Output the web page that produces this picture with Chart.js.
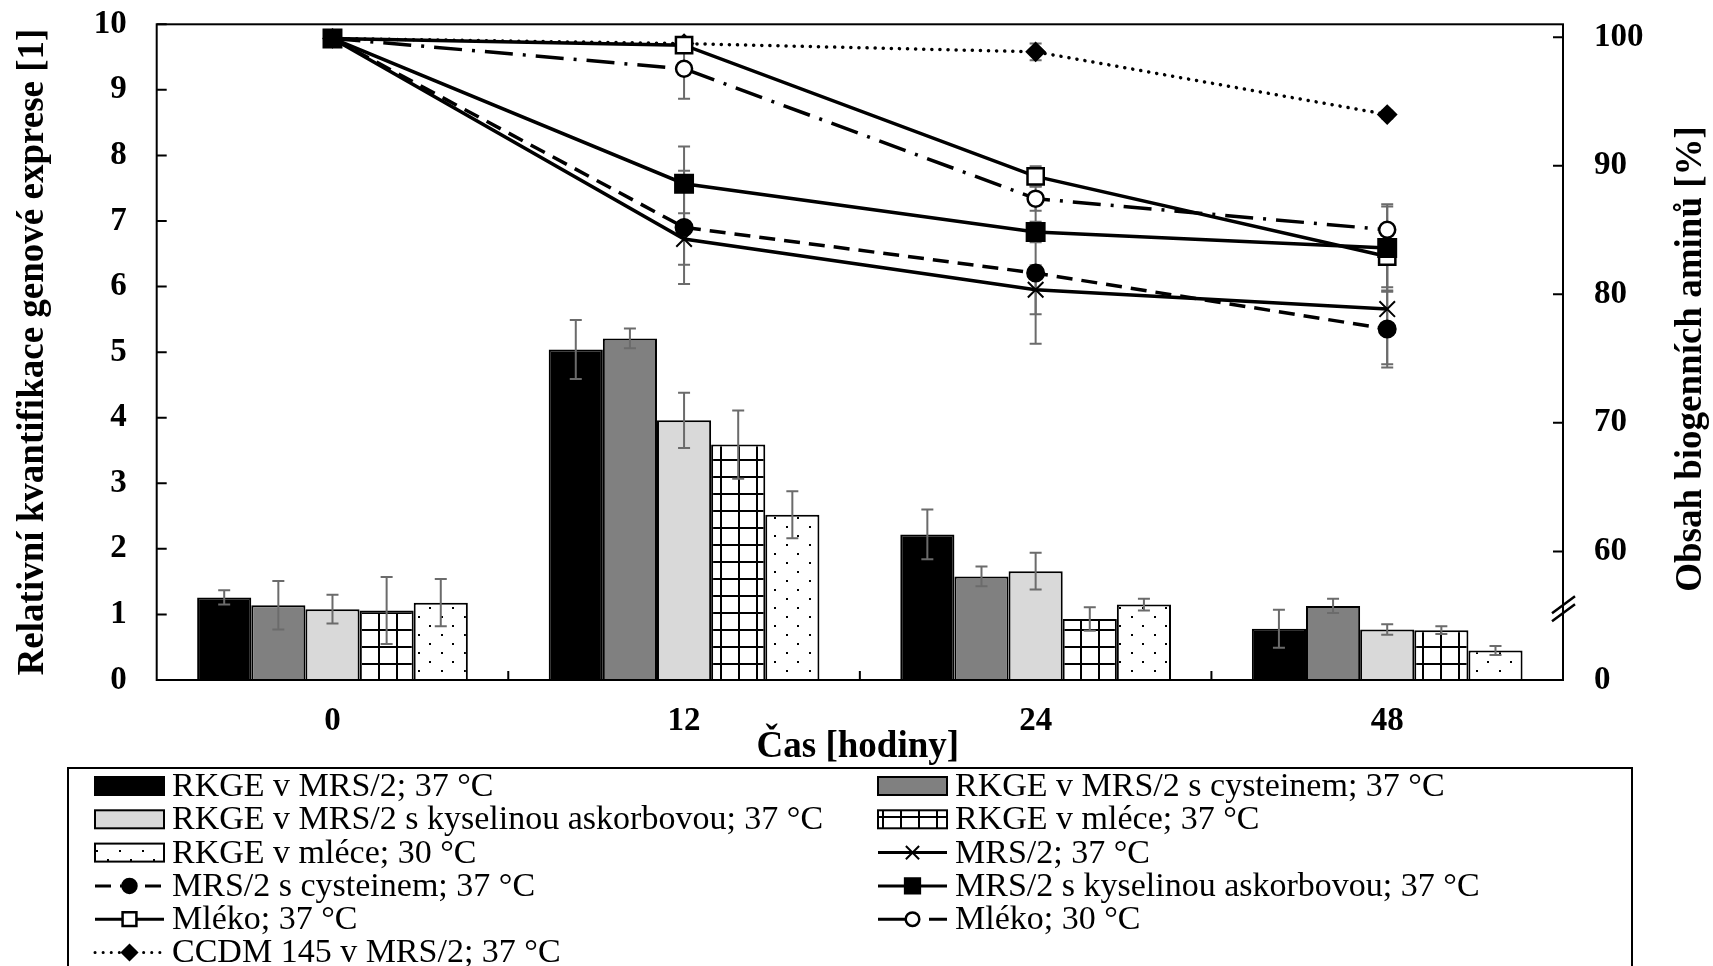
<!DOCTYPE html>
<html>
<head>
<meta charset="utf-8">
<script src="https://cdn.jsdelivr.net/npm/chart.js@4.4.1/dist/chart.umd.min.js"></script>
<style>
html, body { margin: 0; padding: 0; background: #fff; }
#wrap { width: 1713px; height: 966px; position: relative; overflow: hidden; }
</style>
</head>
<body>
<div id="wrap"><canvas id="graf" width="1713" height="966"></canvas></div>
<script>
// --- Data ---
const hodiny = ['0', '12', '24', '48'];

// Relativni kvantifikace genove exprese (leva osa) - sloupce
const rkgeMrs = [1.26, 5.04, 2.22, 0.78];
const rkgeMrsChyba = [0.11, 0.45, 0.38, 0.29];
const rkgeCys = [1.14, 5.21, 1.58, 1.13];
const rkgeCysChyba = [0.37, 0.15, 0.15, 0.11];
const rkgeAsk = [1.08, 3.96, 1.66, 0.77];
const rkgeAskChyba = [0.22, 0.42, 0.28, 0.08];
const rkgeMl37 = [1.06, 3.59, 0.93, 0.76];
const rkgeMl37Chyba = [0.51, 0.52, 0.18, 0.06];
const rkgeMl30 = [1.18, 2.52, 1.15, 0.45];
const rkgeMl30Chyba = [0.36, 0.36, 0.09, 0.07];

// Obsah biogennich aminu (prava osa) - cary
const mrs = [99.9, 84.3, 80.35, 78.85];
const mrsChyba = [0, 2.0, 1.9, 4.3];
const mrsCys = [99.9, 85.2, 81.65, 77.3];
const mrsCysChyba = [0, 4.4, 5.5, 3.0];
const mrsAsk = [99.9, 88.6, 84.84, 83.6];
const mrsAskChyba = [0, 2.9, 0.8, 3.4];
const mleko37 = [99.9, 99.38, 89.17, 82.94];
const mleko37Chyba = [0, 0.3, 0.78, 2.4];
const mleko30 = [99.9, 97.54, 87.44, 85.02];
const mleko30Chyba = [0, 2.34, 0.94, 1.8];
const ccdm = [99.9, 99.5, 98.86, 93.98];
const ccdmChyba = [0, 0.2, 0.65, 0.3];

// Osy
const levaOsaTicks = [0, 1, 2, 3, 4, 5, 6, 7, 8, 9, 10];
const pravaOsaTicks = [50, 60, 70, 80, 90, 100];
const pravaOsaPopisky = ['0', '60', '70', '80', '90', '100'];

const PISMO = '"Liberation Serif", "Times New Roman", serif';
const canvas = document.getElementById('graf');
const ctx0 = canvas.getContext('2d');

// --- Vzory vyplne ---
function vzorMrizka() {
    const c = document.createElement('canvas');
    c.width = 18; c.height = 17;
    const g = c.getContext('2d');
    g.fillStyle = '#fff'; g.fillRect(0, 0, 18, 17);
    g.fillStyle = '#000'; g.fillRect(0, 0, 2, 17); g.fillRect(0, 0, 18, 2);
    return ctx0.createPattern(c, 'repeat');
}
function vzorTecky() {
    const c = document.createElement('canvas');
    c.width = 23; c.height = 18;
    const g = c.getContext('2d');
    g.fillStyle = '#fff'; g.fillRect(0, 0, 23, 18);
    g.fillStyle = '#000'; g.fillRect(4, 4, 2, 2); g.fillRect(15, 13, 2, 2);
    return ctx0.createPattern(c, 'repeat');
}

const sloupec = (label, data, chyby, barva) => ({
    type: 'bar', label, data, chyby, yAxisID: 'y', order: 2,
    backgroundColor: barva, borderColor: '#000', borderWidth: 2,
    categoryPercentage: 0.77, barPercentage: 1.0
});
const cara = (label, data, chyby, extra) => Object.assign({
    type: 'line', label, data, chyby, yAxisID: 'y2', order: 1,
    borderColor: '#000', borderWidth: 3.5, tension: 0,
    pointBorderColor: '#000', pointBackgroundColor: '#000', pointBorderWidth: 2
}, extra);

const datasets = [
    sloupec('RKGE v MRS/2; 37 °C', rkgeMrs, rkgeMrsChyba, '#000000'),
    sloupec('RKGE v MRS/2 s cysteinem; 37 °C', rkgeCys, rkgeCysChyba, '#808080'),
    sloupec('RKGE v MRS/2 s kyselinou askorbovou; 37 °C', rkgeAsk, rkgeAskChyba, '#d9d9d9'),
    sloupec('RKGE v mléce; 37 °C', rkgeMl37, rkgeMl37Chyba, vzorMrizka()),
    sloupec('RKGE v mléce; 30 °C', rkgeMl30, rkgeMl30Chyba, vzorTecky()),
    cara('MRS/2; 37 °C', mrs, mrsChyba, { pointStyle: 'crossRot', pointRadius: 11 }),
    cara('MRS/2 s cysteinem; 37 °C', mrsCys, mrsCysChyba, { pointStyle: 'circle', pointRadius: 8.5, borderDash: [16, 9] }),
    cara('MRS/2 s kyselinou askorbovou; 37 °C', mrsAsk, mrsAskChyba, { pointStyle: 'rect', pointRadius: 12.7 }),
    cara('Mléko; 37 °C', mleko37, mleko37Chyba, { pointStyle: 'rect', pointRadius: 11.5, pointBackgroundColor: '#fff', pointBorderWidth: 2.5 }),
    cara('Mléko; 30 °C', mleko30, mleko30Chyba, { pointStyle: 'circle', pointRadius: 8, pointBackgroundColor: '#fff', pointBorderWidth: 2.5, borderDash: [28, 10, 3, 10] }),
    cara('CCDM 145 v MRS/2; 37 °C', ccdm, ccdmChyba, { pointStyle: 'rectRot', pointRadius: 9, borderDash: [0.1, 8], borderCapStyle: 'round' })
];

// --- Chybove useky ---
function kresliChyby(chart, i) {
    const ds = chart.data.datasets[i];
    const meta = chart.getDatasetMeta(i);
    if (!ds.chyby || meta.hidden) return;
    const osa = chart.scales[ds.yAxisID];
    const ctx = chart.ctx;
    ctx.save();
    ctx.strokeStyle = '#6b6b6b';
    ctx.lineWidth = 2;
    meta.data.forEach((el, j) => {
        const e = ds.chyby[j];
        if (!e) return;
        const yH = osa.getPixelForValue(ds.data[j] + e);
        const yD = osa.getPixelForValue(ds.data[j] - e);
        ctx.beginPath();
        ctx.moveTo(el.x, yH); ctx.lineTo(el.x, yD);
        ctx.moveTo(el.x - 6, yH); ctx.lineTo(el.x + 6, yH);
        ctx.moveTo(el.x - 6, yD); ctx.lineTo(el.x + 6, yD);
        ctx.stroke();
    });
    ctx.restore();
}

const chybyPlugin = {
    id: 'chyby',
    beforeDatasetsDraw(chart) {
        chart.data.datasets.forEach((ds, i) => { if (ds.type === 'line') kresliChyby(chart, i); });
    },
    afterDatasetDraw(chart, args) {
        if (chart.data.datasets[args.index].type === 'bar') kresliChyby(chart, args.index);
    }
};

// --- Ramecek, znacky os, nadpisy, legenda ---
function kresliSymbol(ctx, ds, x, y) {
    const w = 69;
    if (ds.type === 'bar') {
        ctx.fillStyle = ds.backgroundColor;
        ctx.fillRect(x, y - 9, w, 18);
        ctx.lineWidth = 2; ctx.strokeStyle = '#000';
        ctx.strokeRect(x, y - 9, w, 18);
        return;
    }
    ctx.save();
    ctx.strokeStyle = '#000';
    ctx.lineWidth = 3;
    ctx.setLineDash(ds.borderDash || []);
    ctx.lineCap = ds.borderCapStyle || 'butt';
    ctx.beginPath(); ctx.moveTo(x, y); ctx.lineTo(x + w, y); ctx.stroke();
    ctx.restore();
    ctx.save();
    ctx.fillStyle = ds.pointBackgroundColor;
    ctx.strokeStyle = '#000';
    ctx.lineWidth = ds.pointBorderWidth;
    Chart.helpers.drawPoint(ctx, { pointStyle: ds.pointStyle, radius: ds.pointRadius * 0.85, borderWidth: ds.pointBorderWidth, rotation: 0 }, x + w / 2, y);
    ctx.restore();
}

const dekorPlugin = {
    id: 'dekor',
    afterDraw(chart) {
        const { ctx, chartArea: a, scales } = chart;
        ctx.save();
        ctx.strokeStyle = '#000';
        ctx.lineWidth = 2;
        ctx.strokeRect(a.left, a.top, a.right - a.left, a.bottom - a.top);

        // znacky dovnitr
        ctx.beginPath();
        levaOsaTicks.forEach(v => {
            const y = scales.y.getPixelForValue(v);
            ctx.moveTo(a.left, y); ctx.lineTo(a.left + 10, y);
        });
        pravaOsaTicks.forEach(v => {
            const y = scales.y2.getPixelForValue(v);
            ctx.moveTo(a.right - 10, y); ctx.lineTo(a.right, y);
        });
        for (let i = 0; i < hodiny.length - 1; i++) {
            const x = scales.x.getPixelForValue(i + 0.5);
            ctx.moveTo(x, a.bottom); ctx.lineTo(x, a.bottom - 9);
        }
        ctx.stroke();

        // preruseni prave osy
        const yb = scales.y2.getPixelForValue(55.5);
        ctx.lineWidth = 2.5;
        ctx.beginPath();
        [-4, 4].forEach(d => {
            ctx.moveTo(a.right - 11, yb + d + 8); ctx.lineTo(a.right + 12, yb + d - 9);
        });
        ctx.stroke();

        // nadpisy os
        ctx.fillStyle = '#000';
        ctx.font = 'bold 37px ' + PISMO;
        ctx.textAlign = 'center';
        ctx.textBaseline = 'alphabetic';
        ctx.fillText('Čas [hodiny]', (a.left + a.right) / 2 - 2, 757);
        ctx.save();
        ctx.translate(43, 352); ctx.rotate(-Math.PI / 2);
        ctx.fillText('Relativní kvantifikace genové exprese [1]', 0, 0);
        ctx.restore();
        ctx.save();
        ctx.translate(1701, 359); ctx.rotate(-Math.PI / 2);
        ctx.fillText('Obsah biogenních aminů [%]', 0, 0);
        ctx.restore();

        // legenda
        ctx.lineWidth = 2;
        ctx.strokeStyle = '#000';
        ctx.strokeRect(68, 768, 1632 - 68, 260);
        const sloupceX = [95, 878];
        chart.data.datasets.forEach((ds, i) => {
            const sx = sloupceX[i % 2];
            const y = 786 + 33.3 * Math.floor(i / 2);
            kresliSymbol(ctx, ds, sx, y);
            ctx.fillStyle = '#000';
            ctx.font = '34px ' + PISMO;
            ctx.textAlign = 'left';
            ctx.textBaseline = 'middle';
            ctx.fillText(ds.label, sx + 77, y + 1);
        });
        ctx.restore();
    }
};

const tickFont = { family: PISMO, size: 33, weight: 'bold' };

// pevne rozmery os, bez automatickeho odsazeni
const svislaOsa = sirka => s => {
    s.width = sirka;
    s.paddingTop = 0;
    s.paddingBottom = 0;
};

new Chart(canvas, {
    type: 'bar',
    data: { labels: hodiny, datasets },
    options: {
        responsive: false,
        animation: false,
        devicePixelRatio: 1,
        layout: { padding: { top: 24.3, left: 0, right: 0, bottom: 0 }, autoPadding: false },
        plugins: { legend: { display: false }, tooltip: { enabled: false } },
        scales: {
            x: {
                type: 'category', offset: true,
                grid: { display: false, drawTicks: false },
                border: { display: false },
                ticks: { color: '#000', font: tickFont, padding: 22, maxRotation: 0 },
                afterFit: s => { s.height = 286; s.paddingLeft = 0; s.paddingRight = 0; }
            },
            y: {
                position: 'left', min: 0, max: 10,
                grid: { display: false, drawTicks: false },
                border: { display: false },
                ticks: { stepSize: 1, color: '#000', font: tickFont, padding: 30 },
                afterFit: svislaOsa(156.7)
            },
            y2: {
                position: 'right', min: 50, max: 101,
                grid: { display: false, drawTicks: false },
                border: { display: false },
                afterBuildTicks: s => { s.ticks = pravaOsaTicks.map(v => ({ value: v })); },
                ticks: {
                    color: '#000', font: tickFont, padding: 31,
                    callback: v => pravaOsaPopisky[pravaOsaTicks.indexOf(v)]
                },
                afterFit: svislaOsa(150)
            }
        }
    },
    plugins: [chybyPlugin, dekorPlugin]
});
</script>
</body>
</html>
